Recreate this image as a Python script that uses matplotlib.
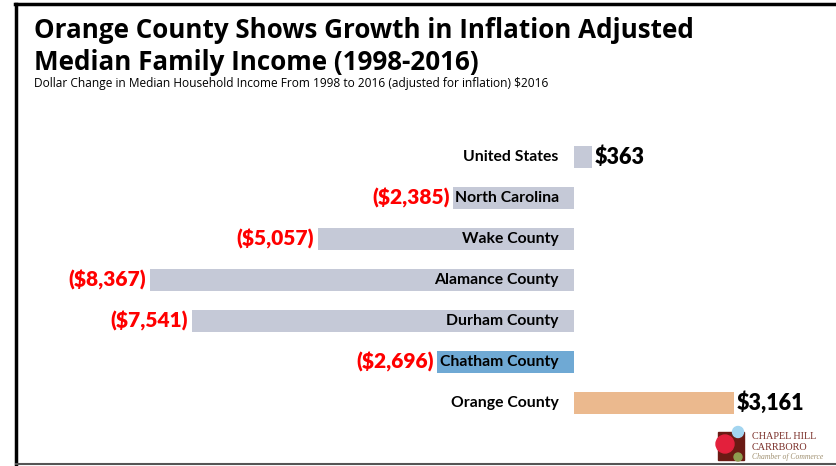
import matplotlib.pyplot as plt
from matplotlib.lines import Line2D
from matplotlib.patches import Rectangle, Circle

# data
places = ['United States', 'North Carolina', 'Wake County', 'Alamance County',
          'Durham County', 'Chatham County', 'Orange County']
change = [363, -2385, -5057, -8367, -7541, -2696, 3161]
value_labels = ['$363', '($2,385)', '($5,057)', '($8,367)', '($7,541)', '($2,696)', '$3,161']
bar_colors = ['#C5C9D7', '#C5C9D7', '#C5C9D7', '#C5C9D7', '#C5C9D7', '#6FA9D4', '#EBB98E']

W, H = 836, 466
fig = plt.figure(figsize=(W / 100, H / 100), dpi=100)
fig.patch.set_facecolor('white')

# one axes over the whole figure; zero at x=574 px, ~0.0507 px per dollar
ax = fig.add_axes([0, 0, 1, 1])
px = 0.0507
ax.set_xlim(-574 / px, (W - 574) / px)
ax.set_ylim((H - 157) / 41, -157 / 41)
ax.axis('off')

lab_font = ['Lato', 'DejaVu Sans']
ax.barh(range(len(places)), change, height=0.54, color=bar_colors)
for i, (name, v, t) in enumerate(zip(places, change, value_labels)):
    ax.text(-300, i, name, ha='right', va='center', fontsize=11.3,
            fontweight='bold', family=lab_font)
    if v < 0:
        ax.text(v - 70, i, t, ha='right', va='center', fontsize=15,
                fontweight='heavy', color='#FF0000', family=lab_font)
    else:
        ax.text(v + 40, i, t, ha='left', va='center', fontsize=15.5,
                fontweight='heavy', color='black', family=lab_font)

# title and subtitle
title_font = ['Open Sans', 'DejaVu Sans']
fig.text(34 / W, 1 - 38 / H, 'Orange County Shows Growth in Inflation Adjusted',
         fontsize=18.7, fontweight='bold', family=title_font, va='baseline')
fig.text(34 / W, 1 - 70 / H, 'Median Family Income (1998-2016)',
         fontsize=18.7, fontweight='bold', family=title_font, va='baseline')
fig.text(34 / W, 1 - 87 / H,
         'Dollar Change in Median Household Income From 1998 to 2016 (adjusted for inflation) $2016',
         fontsize=8.6, family=title_font, va='baseline')

# slide frame
fig.add_artist(Line2D([15 / W, 1], [1 - 4 / H, 1 - 4 / H], color='black', lw=2.5))
fig.add_artist(Line2D([16 / W, 16 / W], [1 - 4 / H, 1 - 464 / H], color='black', lw=2.5))
fig.add_artist(Line2D([16 / W, 1], [1 - 464 / H, 1 - 464 / H], color='#555555', lw=1.5))

# chamber logo (pixel coords, y down)
lg = fig.add_axes([712 / W, 1 - 464 / H, 40 / W, 42 / H])
lg.set_xlim(712, 752)
lg.set_ylim(464, 422)
lg.axis('off')
lg.add_patch(Rectangle((718, 432), 26, 28, color='#6B1A14'))
lg.add_patch(Circle((738, 432), 5.5, color='#A3D5F0'))
lg.add_patch(Circle((725, 444), 9, color='#E3203C'))
lg.add_patch(Circle((738, 457), 4, color='#8E9C50'))
fig.text(752 / W, 1 - 439 / H, 'CHAPEL HILL', fontsize=7.3, color='#7A2E28',
         family='Liberation Serif')
fig.text(752 / W, 1 - 450 / H, 'CARRBORO', fontsize=7.3, color='#7A2E28',
         family='Liberation Serif')
fig.text(752 / W, 1 - 459 / H, 'Chamber of Commerce', fontsize=5.5, color='#A09070',
         family='Liberation Serif', style='italic')

fig.savefig('out.png', dpi=100)
